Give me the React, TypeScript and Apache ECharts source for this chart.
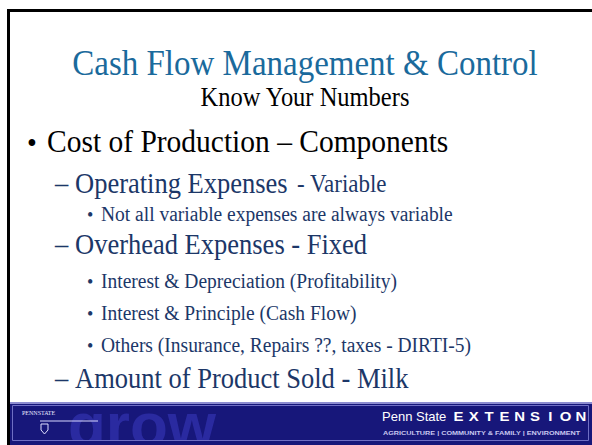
import React, { useEffect, useRef } from "react";
import * as echarts from "echarts";

const titleText = "Cash Flow Management & Control";
const subtitleText = "Know Your Numbers";
const level1 = ["Cost of Production – Components"];
const level2 = [
  { main: "Operating Expenses", tail: "- Variable" },
  { main: "Overhead Expenses - Fixed", tail: "" },
  { main: "Amount of Product Sold - Milk", tail: "" },
];
const level3a = ["Not all variable expenses are always variable"];
const level3b = [
  "Interest & Depreciation (Profitability)",
  "Interest & Principle (Cash Flow)",
  "Others (Insurance, Repairs ??, taxes - DIRTI-5)",
];
const footerLeft = "PENNSTATE";
const footerWord = "grow";
const footerBrand1 = "Penn State";
const footerBrand2 = "EXTENSION";
const footerTag = "AGRICULTURE | COMMUNITY & FAMILY | ENVIRONMENT";

const SERIF = "Liberation Serif";
const SANS = "Liberation Sans";
const NAVY = "#1c3768";

export default function App() {
  const ref = useRef<HTMLDivElement>(null);
  useEffect(() => {
    if (!ref.current) return;
    const chart = echarts.init(ref.current, null, { renderer: "svg" });
    const t = (
      text: string,
      x: number,
      y: number,
      size: number,
      family: string,
      fill: string,
      align = "left",
      weight: any = "normal",
      z = 10,
      extra: any = {}
    ) => ({
      type: "text",
      x,
      y,
      z,
      ...extra,
      style: { text, fontSize: size, fontFamily: family, fontWeight: weight, fill, align, verticalAlign: "middle" },
    });
    const s = (text: string, x: number, y: number, size: number, fill: string, align = "left") =>
      t(text, x, y, size, SERIF, fill, align, "normal", 10, { scaleY: 1.08 });
    const ext = footerBrand2
      .split("")
      .map((ch, i) => t(ch, 458.5 + i * 15.3, 416, 13, SANS, "#ffffff", "center", "bold", 13, { scaleX: 1.15 }));
    const elements: any[] = [
      { type: "rect", shape: { x: 0, y: 0, width: 592, height: 445 }, style: { fill: "#fff" }, z: 0 },
      // border
      { type: "rect", shape: { x: 7, y: 9, width: 585, height: 3 }, style: { fill: "#000" }, z: 5 },
      { type: "rect", shape: { x: 7, y: 9, width: 3, height: 436 }, style: { fill: "#000" }, z: 5 },
      // titles
      s(titleText, 305, 63, 33, "#1a6a9c", "center"),
      s(subtitleText, 305, 97, 24.5, "#000", "center"),
      // level 1
      s("•", 27, 143, 28, "#000"),
      s(level1[0], 47, 142, 29.5, "#000"),
      // level 2
      s("–", 55, 183, 26.5, NAVY),
      s(level2[0].main, 75, 183, 26.5, NAVY),
      s(level2[0].tail, 297, 184, 23, NAVY),
      s("•", 87, 214, 18, NAVY),
      s(level3a[0], 101, 214, 19.5, NAVY),
      s("–", 55, 244, 26.5, NAVY),
      s(level2[1].main, 75, 244, 26.5, NAVY),
      ...level3b.flatMap((str, i) => [
        s("•", 87, 281 + i * 32, 18, NAVY),
        s(str, 101, 281 + i * 32, 19.5, NAVY),
      ]),
      s("–", 55, 378, 26.5, NAVY),
      s(level2[2].main, 75, 378, 26.5, NAVY),
      // footer banner
      { type: "rect", shape: { x: 10, y: 402, width: 582, height: 43 }, style: { fill: "#17177a" }, z: 6 },
      { type: "rect", shape: { x: 10, y: 402, width: 582, height: 2 }, style: { fill: "#8c8cd0" }, z: 7 },
      t(footerWord, 68, 424, 62, SANS, "#2a2aa0", "left", "bold", 8),
      { type: "rect", shape: { x: 10, y: 441, width: 582, height: 4 }, style: { fill: "#17177a" }, z: 11 },
      { type: "rect", shape: { x: 12.5, y: 405.5, width: 576, height: 35 }, style: { fill: "none", stroke: "#6f6fc4", lineWidth: 1 }, z: 12 },
      t(footerLeft, 22, 413, 6, SERIF, "#e8e8ff", "left", "normal", 13),
      { type: "line", shape: { x1: 40, y1: 421, x2: 98, y2: 421 }, style: { stroke: "#d8d8ff", lineWidth: 1 }, z: 12 },
      { type: "polygon", shape: { points: [[41, 424], [48, 424], [48, 430], [44.5, 434], [41, 430]] }, style: { fill: "none", stroke: "#e0e0ff", lineWidth: 1 }, z: 12 },
      t(footerBrand1, 382, 416, 13, SANS, "#ffffff", "left", "normal", 13),
      ...ext,
      t(footerTag, 383, 433, 5, SANS, "#c8c8f0", "left", "bold", 13, { scaleX: 1.45 }),
    ];
    chart.setOption({ animation: false, graphic: { elements } });
    return () => chart.dispose();
  }, []);
  return <div ref={ref} style={{ position: "fixed", left: 0, top: 0, width: 592, height: 445, background: "#fff" }} />;
}
